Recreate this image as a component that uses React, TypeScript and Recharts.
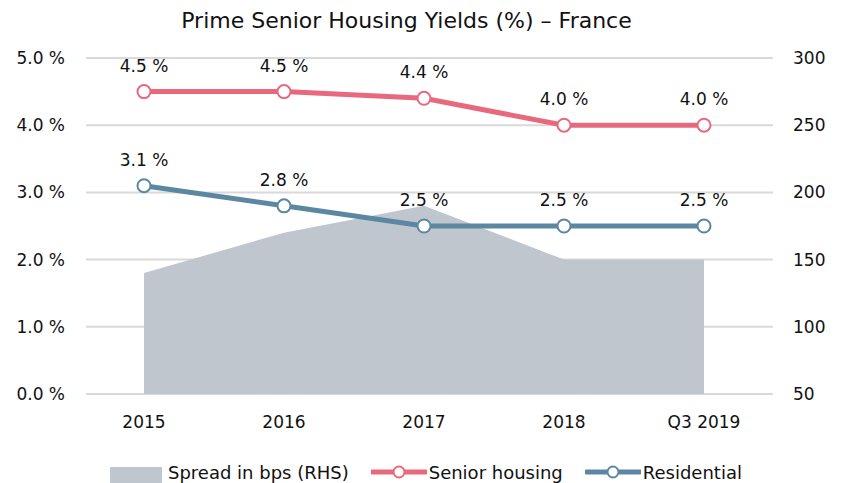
import { Area, CartesianGrid, ComposedChart, LabelList, Line, XAxis, YAxis } from "recharts"

const categories = ["2015", "2016", "2017", "2018", "Q3 2019"]
const seniorHousing = [4.5, 4.5, 4.4, 4.0, 4.0]
const residential = [3.1, 2.8, 2.5, 2.5, 2.5]
const spreadBps = [140, 170, 190, 150, 150]
const leftTicks = [0, 1, 2, 3, 4, 5]
const rightTicks = [50, 100, 150, 200, 250, 300]

const PINK = "#e8697d"
const BLUE = "#5b87a3"
const GREY = "#c0c6ce"
const FONT = "'DejaVu Sans', sans-serif"

const data = categories.map((name, i) => ({
  name,
  senior: seniorHousing[i],
  residential: residential[i],
  spread: spreadBps[i],
}))

const pct = (v: number) => `${v.toFixed(1)} %`

function LineIcon({ color }: { color: string }) {
  return (
    <svg width={56} height={14} style={{ display: "block" }}>
      <line x1={1} y1={7} x2={55} y2={7} stroke={color} strokeWidth={5} strokeLinecap="round" />
      <circle cx={28} cy={7} r={5.5} fill="#fff" stroke={color} strokeWidth={2} />
    </svg>
  )
}

export default function App() {
  const tickStyle = { fill: "#111", fontSize: 17, fontFamily: FONT }
  return (
    <div style={{ position: "absolute", left: 0, top: 0, width: 841, height: 483, overflow: "hidden", background: "#fff", fontFamily: FONT }}>
      <div style={{ position: "absolute", top: 8, left: 0, width: 813, textAlign: "center", fontSize: 22, color: "#111" }}>
        Prime Senior Housing Yields (%) – France
      </div>
      <ComposedChart width={841} height={483} data={data} margin={{ top: 58, right: 0, bottom: 0, left: 0 }}>
        <CartesianGrid yAxisId="left" vertical={false} stroke="#d9d9d9" strokeWidth={2} />
        <XAxis
          dataKey="name"
          height={89}
          axisLine={false}
          tickLine={false}
          tickSize={0}
          tickMargin={22}
          padding={{ left: 58, right: 69 }}
          tick={tickStyle}
        />
        <YAxis
          yAxisId="left"
          orientation="left"
          width={86}
          domain={[0, 5]}
          ticks={leftTicks}
          tickFormatter={pct}
          axisLine={false}
          tickLine={false}
          tickSize={0}
          tickMargin={21}
          tick={tickStyle}
        />
        <YAxis
          yAxisId="right"
          orientation="right"
          width={68}
          domain={[50, 300]}
          ticks={rightTicks}
          axisLine={false}
          tickLine={false}
          tickSize={0}
          tickMargin={20}
          tick={tickStyle}
        />
        <Area
          yAxisId="right"
          type="linear"
          dataKey="spread"
          stroke="none"
          fill={GREY}
          fillOpacity={1}
          isAnimationActive={false}
        />
        <Line
          yAxisId="left"
          type="linear"
          dataKey="senior"
          stroke={PINK}
          strokeWidth={5}
          dot={{ r: 6.5, fill: "#fff", stroke: PINK, strokeWidth: 2 }}
          isAnimationActive={false}
        >
          <LabelList dataKey="senior" position="top" offset={20} formatter={(v: any) => pct(Number(v))} style={{ fill: "#111", fontSize: 17, fontFamily: FONT }} />
        </Line>
        <Line
          yAxisId="left"
          type="linear"
          dataKey="residential"
          stroke={BLUE}
          strokeWidth={5}
          dot={{ r: 6.5, fill: "#fff", stroke: BLUE, strokeWidth: 2 }}
          isAnimationActive={false}
        >
          <LabelList dataKey="residential" position="top" offset={20} formatter={(v: any) => pct(Number(v))} style={{ fill: "#111", fontSize: 17, fontFamily: FONT }} />
        </Line>
      </ComposedChart>
      <div style={{ position: "absolute", top: 457, left: 110, display: "flex", alignItems: "center", fontSize: 18, color: "#111", whiteSpace: "nowrap" }}>
        <div style={{ width: 52, height: 20, background: GREY, marginRight: 6, marginTop: 10 }} />
        <span>Spread in bps (RHS)</span>
        <div style={{ marginLeft: 22, marginRight: 2 }}>
          <LineIcon color={PINK} />
        </div>
        <span>Senior housing</span>
        <div style={{ marginLeft: 22, marginRight: 2 }}>
          <LineIcon color={BLUE} />
        </div>
        <span>Residential</span>
      </div>
    </div>
  )
}
